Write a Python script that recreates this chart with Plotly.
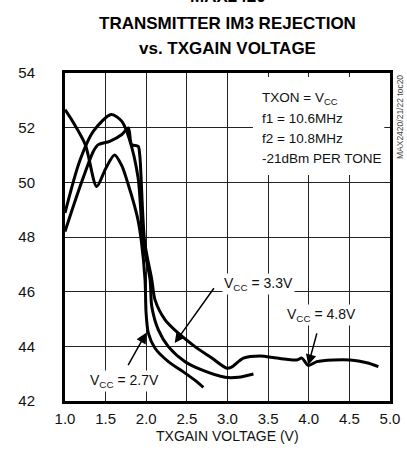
import plotly.graph_objects as go

# ---------------- data ----------------
x_ticks = [1.0, 1.5, 2.0, 2.5, 3.0, 3.5, 4.0, 4.5, 5.0]
x_tick_labels = ["1.0", "1.5", "2.0", "2.5", "3.0", "3.5", "4.0", "4.5", "5.0"]
y_ticks = [42, 44, 46, 48, 50, 52, 54]
y_tick_labels = ["42", "44", "46", "48", "50", "52", "54"]

vcc27_x = [1.00, 1.10, 1.25, 1.39, 1.50, 1.61, 1.70, 1.78, 1.85, 1.90, 1.94, 1.985, 1.998, 2.026, 2.108, 2.272, 2.478, 2.621, 2.703]
vcc27_y = [52.66, 52.2, 51.38, 49.85, 50.5, 51.0, 50.6, 49.9, 49.2, 48.6, 47.84, 46.44, 45.22, 44.48, 43.93, 43.44, 43.02, 42.71, 42.5]

vcc33_x = [1.00, 1.18, 1.35, 1.57, 1.70, 1.79, 1.90, 1.96, 2.047, 2.068, 2.149, 2.272, 2.478, 2.683, 2.97, 3.134, 3.319]
vcc33_y = [48.88, 50.77, 51.87, 52.48, 52.23, 51.6, 50.16, 47.84, 46.44, 45.46, 44.6, 43.99, 43.44, 43.14, 42.87, 42.87, 42.99]

vcc48_x = [1.00, 1.18, 1.35, 1.41, 1.55, 1.70, 1.78, 1.82, 1.90, 1.92, 1.98, 2.068, 2.108, 2.232, 2.395, 2.60, 2.807, 2.99, 3.05,
           3.196, 3.40, 3.607, 3.853, 3.915, 3.996, 4.10, 4.30, 4.51, 4.715, 4.857]
vcc48_y = [48.2, 49.8, 51.14, 51.38, 51.5, 51.75, 51.99, 51.38, 51.32, 51.0, 47.84, 46.44, 45.7, 44.97, 44.48, 43.99, 43.57, 43.2, 43.24,
           43.57, 43.65, 43.57, 43.5, 43.57, 43.3, 43.44, 43.5, 43.5, 43.4, 43.26]

series = [("VCC = 2.7V", vcc27_x, vcc27_y), ("VCC = 3.3V", vcc33_x, vcc33_y), ("VCC = 4.8V", vcc48_x, vcc48_y)]

title_lines = ["MAX2420", "TRANSMITTER IM3 REJECTION", "vs. TXGAIN VOLTAGE"]
info_lines = ["TXON = V<sub>CC</sub>", "f1 = 10.6MHz", "f2 = 10.8MHz", "-21dBm PER TONE"]
x_title = "TXGAIN VOLTAGE (V)"
watermark = "MAX2420/21/22 toc20"

# curve labels: text, text x (left), text y, arrow tail (x, y), arrow head (x, y)
curve_labels = [
    ("V<sub>CC</sub> = 3.3V", 2.93, 46.28, (2.846, 46.18), (2.35, 44.12)),
    ("V<sub>CC</sub> = 2.7V", 1.287, 42.73, (1.767, 43.26), (2.0, 44.5)),
    ("V<sub>CC</sub> = 4.8V", 3.708, 45.15, (4.105, 44.53), (3.994, 43.32)),
]

FONT = "Liberation Sans, Arial, sans-serif"

fig = go.Figure()
for name, xs, ys in series:
    fig.add_trace(go.Scatter(x=xs, y=ys, mode="lines", name=name,
                             line=dict(color="black", width=3, shape="spline", smoothing=0.8),
                             showlegend=False, hoverinfo="skip"))

annotations = []
# title
title_y = [1.232, 1.152, 1.076]
for txt, yy in zip(title_lines, title_y):
    annotations.append(dict(text=f"<b>{txt}</b>", xref="paper", yref="paper", x=0.5, y=yy,
                            xanchor="center", yanchor="middle", showarrow=False,
                            font=dict(family=FONT, size=17, color="black")))
# info block
info_y = [53.07, 52.34, 51.6, 50.89]
for txt, yy in zip(info_lines, info_y):
    annotations.append(dict(text=txt, x=3.40, y=yy, xref="x", yref="y", xanchor="left", yanchor="middle",
                            showarrow=False, font=dict(family=FONT, size=13.5, color="#111")))
# curve labels and arrows
for txt, tx, ty, tail, head in curve_labels:
    annotations.append(dict(text=txt, x=tx, y=ty, xref="x", yref="y", xanchor="left", yanchor="middle",
                            showarrow=False, bgcolor="white", borderpad=1,
                            font=dict(family=FONT, size=14, color="#111")))
    annotations.append(dict(text="", x=head[0], y=head[1], xref="x", yref="y",
                            ax=tail[0], ay=tail[1], axref="x", ayref="y",
                            showarrow=True, arrowhead=2, arrowsize=1.4, arrowwidth=1.5,
                            arrowcolor="black", standoff=0))
# x title
annotations.append(dict(text=x_title, xref="paper", yref="paper", x=0.5, y=-0.107,
                        xanchor="center", yanchor="middle", showarrow=False,
                        font=dict(family=FONT, size=14, color="#111")))
# watermark
annotations.append(dict(text=watermark, xref="paper", yref="paper", x=1.031, y=0.866,
                        xanchor="center", yanchor="middle", showarrow=False, textangle=-90,
                        font=dict(family=FONT, size=8.5, color="#444")))

fig.update_layout(
    width=407, height=463,
    margin=dict(l=65, r=17, t=73, b=62, autoexpand=False),
    paper_bgcolor="white", plot_bgcolor="white",
    annotations=annotations,
    shapes=[dict(type="rect", xref="x", yref="y", x0=3.314, x1=4.93, y0=50.27, y1=53.85,
                 fillcolor="white", line=dict(width=0), layer="between")],
)
fig.update_xaxes(range=[1.0, 5.0], tickvals=x_ticks, ticktext=x_tick_labels,
                 showgrid=True, gridcolor="#222", gridwidth=1, zeroline=False,
                 showline=True, linecolor="black", linewidth=3, mirror=True,
                 ticks="", ticklabelstandoff=2, automargin=False,
                 tickfont=dict(family=FONT, size=15, color="#111"))
fig.update_yaxes(range=[42, 54], tickvals=y_ticks, ticktext=y_tick_labels,
                 showgrid=True, gridcolor="#222", gridwidth=1, zeroline=False,
                 showline=True, linecolor="black", linewidth=3, mirror=True,
                 ticks="", ticklabelstandoff=24, automargin=False,
                 tickfont=dict(family=FONT, size=15, color="#111"))

fig.write_html("out.html", config={"displayModeBar": False},
               post_script="document.body.style.margin='0';document.body.style.overflow='hidden';")
